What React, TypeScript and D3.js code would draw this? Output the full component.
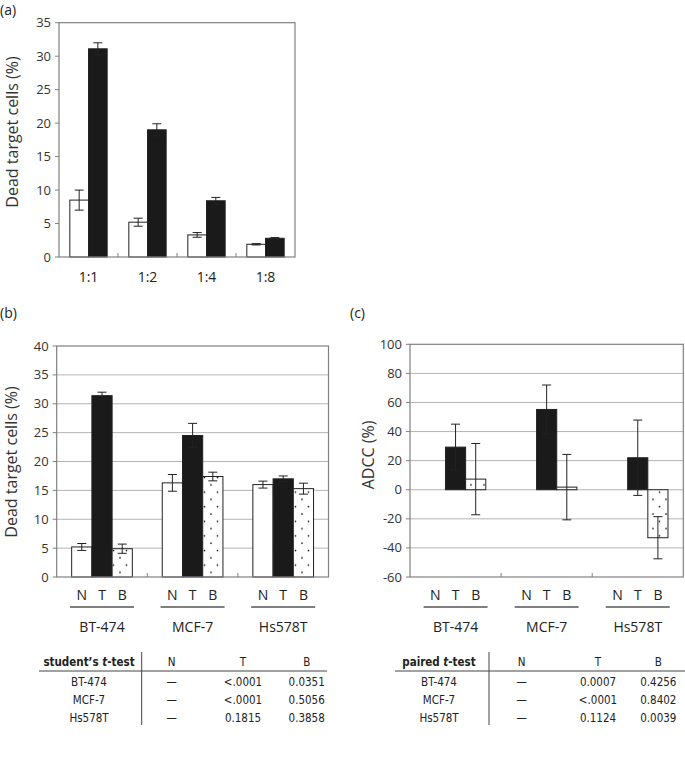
import { useEffect, useRef } from "react";
import * as d3 from "d3";

// (a) effector:target ratio
const ratios = ["1:1", "1:2", "1:4", "1:8"];
const ratioWhite = [8.5, 5.2, 3.3, 1.9];
const ratioWhiteErr = [1.5, 0.6, 0.35, 0.1];
const ratioBlack = [31.1, 19.0, 8.4, 2.8];
const ratioBlackErr = [0.9, 0.9, 0.5, 0.1];

// (b) dead target cells per cell line
const cellLines = ["BT-474", "MCF-7", "Hs578T"];
const treatments = ["N", "T", "B"];
const deadN = [5.2, 16.3, 16.0];
const deadNErr = [0.6, 1.45, 0.6];
const deadT = [31.4, 24.5, 17.0];
const deadTErr = [0.6, 2.1, 0.5];
const deadB = [4.9, 17.4, 15.3];
const deadBErr = [0.8, 0.75, 0.95];

// (c) ADCC
const adccT = [29.3, 55.2, 22.0];
const adccTErr = [15.8, 16.8, 25.9];
const adccB = [7.3, 1.8, -33.0];
const adccBErr = [24.5, 22.5, 14.5];

// tables
const tableCols = ["N", "T", "B"];
const studentP = [
  ["\u2014", "<.0001", "0.0351"],
  ["\u2014", "<.0001", "0.5056"],
  ["\u2014", "0.1815", "0.3858"],
];
const pairedP = [
  ["\u2014", "0.0007", "0.4256"],
  ["\u2014", "<.0001", "0.8402"],
  ["\u2014", "0.1124", "0.0039"],
];

type Bar = { group: string; key: string; value: number | null; err: number; fill: string };

const FONT = "'Open Sans', 'Noto Sans', sans-serif";
const TFONT = "'DejaVu Sans Condensed', 'DejaVu Sans', sans-serif";

export default function App() {
  const svgRef = useRef<SVGSVGElement | null>(null);

  useEffect(() => {
    const svg = d3.select(svgRef.current);
    svg.selectAll("*").remove();

    const defs = svg.append("defs");
    const pat = defs.append("pattern")
      .attr("id", "dots")
      .attr("width", 13)
      .attr("height", 14.6)
      .attr("patternUnits", "userSpaceOnUse");
    pat.append("rect").attr("width", 13).attr("height", 14.6).attr("fill", "white");
    pat.append("circle").attr("cx", 3).attr("cy", 3).attr("r", 0.85).attr("fill", "#111");
    pat.append("circle").attr("cx", 9.5).attr("cy", 10.3).attr("r", 0.85).attr("fill", "#111");

    function panel(opts: {
      left: number; right: number; top: number; bottom: number;
      domain: [number, number]; step: number; grid: boolean;
      groups: string[]; keys: string[]; bars: Bar[]; outerPad: number;
      title: string; titleX: number; titleY: number;
    }) {
      const g = svg.append("g");
      const y = d3.scaleLinear().domain(opts.domain).range([opts.bottom, opts.top]);
      const x0 = d3.scaleBand().domain(opts.groups).range([opts.left, opts.right]).padding(0);
      const x1 = d3.scaleBand().domain(opts.keys).range([0, x0.bandwidth()])
        .paddingInner(0).paddingOuter(opts.outerPad);
      const ticks = d3.range(opts.domain[0], opts.domain[1] + 0.001, opts.step);

      if (opts.grid) {
        g.selectAll("line.grid")
          .data(ticks.filter((t) => t !== opts.domain[0] && t !== opts.domain[1]))
          .enter().append("line")
          .attr("x1", opts.left).attr("x2", opts.right)
          .attr("y1", (d) => y(d)).attr("y2", (d) => y(d))
          .attr("stroke", "#b4b4b4").attr("stroke-width", 1);
      }

      const drawn = opts.bars.filter((b) => b.value !== null) as (Bar & { value: number })[];
      g.selectAll("rect.bar")
        .data(drawn)
        .enter().append("rect")
        .attr("x", (d) => (x0(d.group) as number) + (x1(d.key) as number))
        .attr("width", x1.bandwidth())
        .attr("y", (d) => Math.min(y(d.value), y(0)))
        .attr("height", (d) => Math.max(1, Math.abs(y(d.value) - y(0))))
        .attr("fill", (d) => d.fill)
        .attr("stroke", "#222")
        .attr("stroke-width", 1);

      const eb = g.selectAll("g.err")
        .data(drawn.filter((d) => d.err > 0))
        .enter().append("g")
        .attr("transform", (d) => `translate(${(x0(d.group) as number) + (x1(d.key) as number) + x1.bandwidth() / 2},0)`)
        .attr("stroke", "#222").attr("stroke-width", 1);
      eb.append("line").attr("y1", (d) => y(d.value - d.err)).attr("y2", (d) => y(d.value + d.err));
      eb.append("line").attr("x1", -4.5).attr("x2", 4.5)
        .attr("y1", (d) => y(d.value + d.err)).attr("y2", (d) => y(d.value + d.err));
      eb.append("line").attr("x1", -4.5).attr("x2", 4.5)
        .attr("y1", (d) => y(d.value - d.err)).attr("y2", (d) => y(d.value - d.err));

      // frame
      g.append("rect")
        .attr("x", opts.left).attr("y", opts.top)
        .attr("width", opts.right - opts.left).attr("height", opts.bottom - opts.top)
        .attr("fill", "none").attr("stroke", "#808080").attr("stroke-width", 1.2);

      // y ticks
      const yt = g.selectAll("g.yt").data(ticks).enter().append("g");
      yt.append("line")
        .attr("x1", opts.left - 4).attr("x2", opts.left)
        .attr("y1", (d) => y(d)).attr("y2", (d) => y(d))
        .attr("stroke", "#808080");
      yt.append("text")
        .attr("x", opts.left - 8).attr("y", (d) => y(d))
        .attr("dy", "0.35em")
        .attr("text-anchor", "end")
        .attr("font-family", FONT).attr("font-size", 13).attr("fill", "#333")
        .text((d) => String(d));

      // x boundary ticks
      g.selectAll("line.xt")
        .data(opts.groups.slice(1))
        .enter().append("line")
        .attr("x1", (d) => x0(d) as number).attr("x2", (d) => x0(d) as number)
        .attr("y1", opts.bottom - 4).attr("y2", opts.bottom)
        .attr("stroke", "#808080");

      g.append("text")
        .attr("transform", `translate(${opts.titleX},${opts.titleY}) rotate(-90)`)
        .attr("text-anchor", "middle").attr("dy", "0.35em")
        .attr("font-family", FONT).attr("font-size", 16).attr("fill", "#333")
        .text(opts.title);

      return { g, x0, x1 };
    }

    function treatmentAxis(g: any, x0: any, x1: any, bottom: number) {
      cellLines.forEach((c) => {
        const cx = x0(c) + x0.bandwidth() / 2;
        treatments.forEach((t) => {
          g.append("text")
            .attr("x", x0(c) + x1(t) + x1.bandwidth() / 2).attr("y", bottom + 18)
            .attr("dy", "0.35em").attr("text-anchor", "middle")
            .attr("font-family", FONT).attr("font-size", 14).attr("fill", "#222")
            .text(t);
        });
        g.append("line")
          .attr("x1", cx - 32).attr("x2", cx + 32)
          .attr("y1", bottom + 30).attr("y2", bottom + 30)
          .attr("stroke", "#555").attr("stroke-width", 1.5);
        g.append("text")
          .attr("x", cx).attr("y", bottom + 50)
          .attr("dy", "0.35em").attr("text-anchor", "middle")
          .attr("font-family", FONT).attr("font-size", 14).attr("fill", "#222")
          .text(c);
      });
    }

    // (a)
    const barsA: Bar[] = [];
    ratios.forEach((r, i) => {
      barsA.push({ group: r, key: "w", value: ratioWhite[i], err: ratioWhiteErr[i], fill: "white" });
      barsA.push({ group: r, key: "k", value: ratioBlack[i], err: ratioBlackErr[i], fill: "#1a1a1a" });
    });
    const pa = panel({
      left: 59, right: 295, top: 22.7, bottom: 257, domain: [0, 35], step: 5, grid: false,
      groups: ratios, keys: ["w", "k"], bars: barsA, outerPad: 0.58,
      title: "Dead target cells (%)", titleX: 12, titleY: 132,
    });
    ratios.forEach((r) => {
      pa.g.append("text")
        .attr("x", (pa.x0(r) as number) + pa.x0.bandwidth() / 2).attr("y", 277)
        .attr("dy", "0.35em").attr("text-anchor", "middle")
        .attr("font-family", FONT).attr("font-size", 14).attr("fill", "#222")
        .text(r);
    });

    // (b)
    const barsB: Bar[] = [];
    cellLines.forEach((c, i) => {
      barsB.push({ group: c, key: "N", value: deadN[i], err: deadNErr[i], fill: "white" });
      barsB.push({ group: c, key: "T", value: deadT[i], err: deadTErr[i], fill: "#1a1a1a" });
      barsB.push({ group: c, key: "B", value: deadB[i], err: deadBErr[i], fill: "url(#dots)" });
    });
    const pb = panel({
      left: 56.7, right: 328.5, top: 346, bottom: 577, domain: [0, 40], step: 5, grid: true,
      groups: cellLines, keys: treatments, bars: barsB, outerPad: 0.74,
      title: "Dead target cells (%)", titleX: 11, titleY: 462,
    });
    treatmentAxis(pb.g, pb.x0, pb.x1, 577);

    // (c)
    const barsC: Bar[] = [];
    cellLines.forEach((c, i) => {
      barsC.push({ group: c, key: "N", value: null, err: 0, fill: "white" });
      barsC.push({ group: c, key: "T", value: adccT[i], err: adccTErr[i], fill: "#1a1a1a" });
      barsC.push({ group: c, key: "B", value: adccB[i], err: adccBErr[i], fill: "url(#dots)" });
    });
    const pc = panel({
      left: 410, right: 683.3, top: 344.3, bottom: 577, domain: [-60, 100], step: 20, grid: true,
      groups: cellLines, keys: treatments, bars: barsC, outerPad: 0.76,
      title: "ADCC (%)", titleX: 368, titleY: 455,
    });
    treatmentAxis(pc.g, pc.x0, pc.x1, 577);

    // panel letters
    [["(a)", 0, 10], ["(b)", 0, 313], ["(c)", 350, 313]].forEach(([t, px, py]) => {
      svg.append("text")
        .attr("x", px as number).attr("y", py as number).attr("dy", "0.35em")
        .attr("font-family", FONT).attr("font-size", 14).attr("fill", "#222")
        .text(t as string);
    });

    // tables
    function table(opts: {
      head: string; labelX: number; lineX1: number; lineX2: number; vX: number;
      colX: number[]; rows: string[][];
    }) {
      const g = svg.append("g").attr("font-family", TFONT).attr("font-size", 11.5).attr("fill", "#222");
      const head = g.append("text")
        .attr("x", opts.labelX).attr("y", 662).attr("dy", "0.35em")
        .attr("text-anchor", "middle").attr("font-weight", "bold");
      head.append("tspan").text(opts.head);
      head.append("tspan").attr("font-style", "italic").text("t");
      head.append("tspan").text("-test");
      tableCols.forEach((c, j) => {
        g.append("text").attr("x", opts.colX[j]).attr("y", 662).attr("dy", "0.35em")
          .attr("text-anchor", "middle").text(c);
      });
      g.append("line")
        .attr("x1", opts.lineX1).attr("x2", opts.lineX2).attr("y1", 671).attr("y2", 671)
        .attr("stroke", "#444").attr("stroke-width", 1);
      g.append("line")
        .attr("x1", opts.vX).attr("x2", opts.vX).attr("y1", 652).attr("y2", 725)
        .attr("stroke", "#444").attr("stroke-width", 1);
      const rowY = d3.scalePoint().domain(cellLines).range([682, 718]);
      cellLines.forEach((c, i) => {
        g.append("text").attr("x", opts.labelX).attr("y", rowY(c) as number).attr("dy", "0.35em")
          .attr("text-anchor", "middle").text(c);
        opts.rows[i].forEach((v, j) => {
          g.append("text").attr("x", opts.colX[j]).attr("y", rowY(c) as number).attr("dy", "0.35em")
            .attr("text-anchor", "middle").text(v);
        });
      });
    }
    table({
      head: "student\u2019s ", labelX: 89, lineX1: 39, lineX2: 327, vX: 141.7,
      colX: [171.7, 243, 306.7], rows: studentP,
    });
    table({
      head: "paired ", labelX: 439, lineX1: 395, lineX2: 685, vX: 489,
      colX: [521.7, 598, 658.3], rows: pairedP,
    });
  }, []);

  return (
    <svg
      ref={svgRef}
      width={685}
      height={764}
      style={{ position: "absolute", left: 0, top: 0, background: "white" }}
    />
  );
}
